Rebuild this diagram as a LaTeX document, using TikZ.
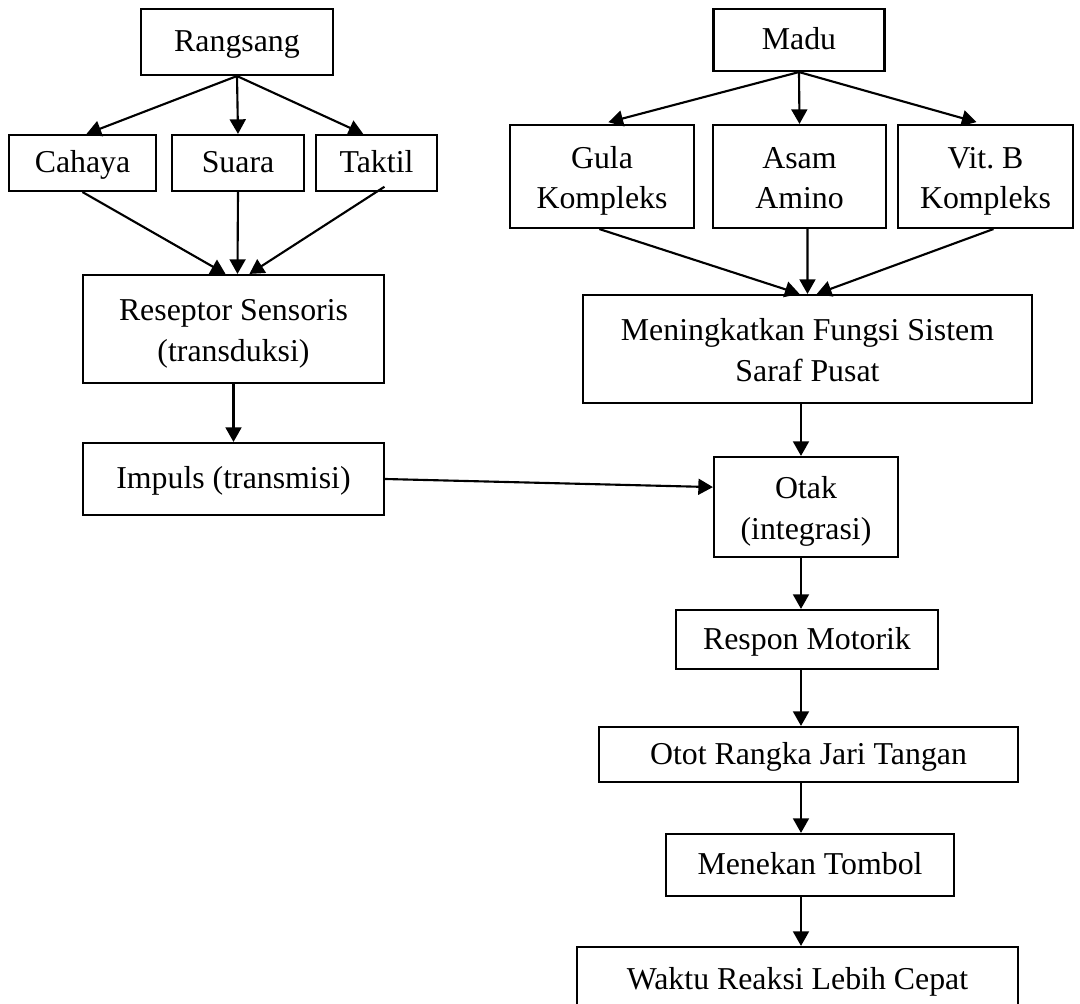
\documentclass[tikz,border=0pt]{standalone}
\usepackage{fontspec}
\setmainfont{Liberation Serif}
\usetikzlibrary{arrows.meta}
\newcommand\vstr{\rule[-2.8pt]{0pt}{13pt}}
\newcommand\vstrtop{\rule[-2.8pt]{0pt}{14.6pt}}

\begin{document}
\begin{tikzpicture}
            [x=0.377pt, y=-0.377pt, line width=0.8pt, every node/.style={draw, align=center, inner sep=0, font=\fontsize{12}{15.2}\selectfont, execute at begin node=\vstr, execute at end node=\vstr}, bx/.style 2 args={minimum width=#1*0.377pt, minimum height=#2*0.377pt}, >={Triangle[length=5.5pt,width=6pt]}]

            \useasboundingbox (0, 0) rectangle (1080, 1004);
            \clip (0, 0) rectangle (1080, 1004);

            \node[bx={192}{66}] (b1) at (237, 42) {Rangsang};
            \node[bx={171}{62}] (b2) at (799, 40) {Madu};
            \node[bx={147}{56}] (b3) at (82.5, 163) {Cahaya};
            \node[bx={132}{56}] (b4) at (238, 163) {Suara};
            \node[bx={121}{56}] (b5) at (376.5, 163) {Taktil};
            \node[bx={184}{103}] (b6) at (602, 176.5) {\vstrtop Gula\\Kompleks};
            \node[bx={173}{103}] (b7) at (799.5, 176.5) {\vstrtop Asam\\Amino};
            \node[bx={175}{103}] (b8) at (985.5, 176.5) {\vstrtop Vit.\ B\\Kompleks};
            \node[bx={301}{108}] (b9) at (233.5, 329) {\vstrtop Reseptor Sensoris\\(transduksi)};
            \node[bx={449}{108}] (b10) at (807.5, 349) {\vstrtop Meningkatkan Fungsi Sistem\\Saraf Pusat};
            \node[bx={301}{72}] (b11) at (233.5, 479) {Impuls (transmisi)};
            \node[bx={184}{100}] (b12) at (806, 507) {\vstrtop Otak\\(integrasi)};
            \node[bx={262}{59}] (b13) at (807, 639.5) {Respon Motorik};
            \node[bx={419}{55}] (b14) at (808.5, 754.5) {Otot Rangka Jari Tangan};
            \node[bx={288}{62}] (b15) at (810, 865) {Menekan Tombol};
            \node[bx={441}{66}] (b16) at (797.5, 980) {Waktu Reaksi Lebih Cepat};
            \coordinate (c1) at (801, 0);

            \draw[->] (b1.south) -- ([xshift=1.5pt]b3.north);
            \draw[->] (b1.south) -- (b4.north);
            \draw[->] (b1.south) -- ([xshift=-5pt]b5.north);
            \draw[->, shorten >=2.5pt] (b2.south) -- (b6.north);
            \draw[->] (b2.south) -- (b7.north);
            \draw[->, shorten >=2.5pt] (b2.south) -- ([xshift=-1pt]b8.north);
            \draw[->] (b3.south) -- ([xshift=-3pt]b9.north);
            \draw[->] (b4.south) -- ([xshift=1.5pt]b9.north);
            \draw[->] ([xshift=3pt,yshift=2pt]b5.south) -- ([xshift=6pt]b9.north);
            \draw[->] ([xshift=-1pt]b6.south) -- ([xshift=-3pt]b10.north);
            \draw[->] ([xshift=3pt]b7.south) -- (b10.north);
            \draw[->] ([xshift=3pt]b8.south) -- ([xshift=3.5pt]b10.north);
            \draw[->] (b9.south) -- (b11.north);
            \draw[->] (b11.east) -- ([yshift=7.5pt]b12.west);
            \draw[->] (b10.south -| c1) -- (b12.north -| c1);
            \draw[->] (b12.south -| c1) -- (b13.north -| c1);
            \draw[->] (b13.south -| c1) -- (b14.north -| c1);
            \draw[->] (b14.south -| c1) -- (b15.north -| c1);
            \draw[->] (b15.south -| c1) -- (b16.north -| c1);
          \end{tikzpicture}
\end{document}
